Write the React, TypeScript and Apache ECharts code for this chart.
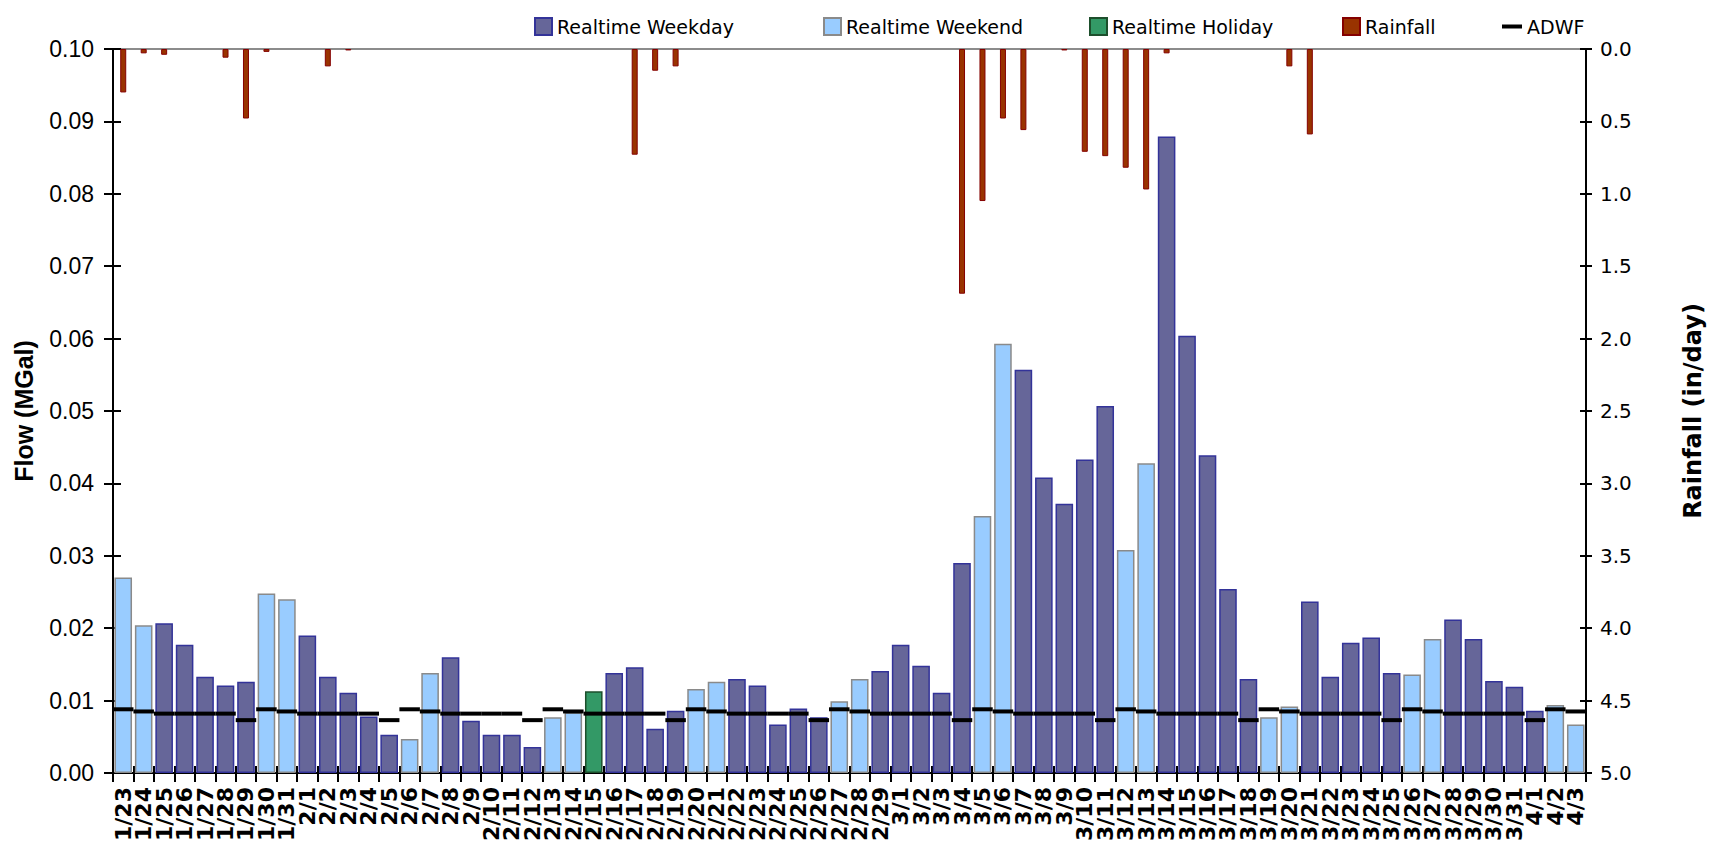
import React, { useEffect, useRef } from "react";
import * as echarts from "echarts";

const categories = [
  "1/23", "1/24", "1/25", "1/26", "1/27", "1/28", "1/29", "1/30", "1/31",
  "2/1", "2/2", "2/3", "2/4", "2/5", "2/6", "2/7", "2/8", "2/9", "2/10",
  "2/11", "2/12", "2/13", "2/14", "2/15", "2/16", "2/17", "2/18", "2/19", "2/20",
  "2/21", "2/22", "2/23", "2/24", "2/25", "2/26", "2/27", "2/28", "2/29",
  "3/1", "3/2", "3/3", "3/4", "3/5", "3/6", "3/7", "3/8", "3/9", "3/10",
  "3/11", "3/12", "3/13", "3/14", "3/15", "3/16", "3/17", "3/18", "3/19", "3/20",
  "3/21", "3/22", "3/23", "3/24", "3/25", "3/26", "3/27", "3/28", "3/29", "3/30",
  "3/31", "4/1", "4/2", "4/3",
];

// Day type: D = weekday, E = weekend, H = holiday
const dayType = [
  "E", "E", "D", "D", "D", "D", "D", "E", "E",
  "D", "D", "D", "D", "D", "E", "E", "D", "D", "D",
  "D", "D", "E", "E", "H", "D", "D", "D", "D", "E",
  "E", "D", "D", "D", "D", "D", "E", "E", "D",
  "D", "D", "D", "D", "E", "E", "D", "D", "D", "D",
  "D", "E", "E", "D", "D", "D", "D", "D", "E", "E",
  "D", "D", "D", "D", "D", "E", "E", "D", "D", "D",
  "D", "D", "E", "E",
];

const flow = [
  0.0270, 0.0204, 0.0207, 0.0177, 0.0133, 0.0121, 0.0126, 0.0248, 0.0240,
  0.0190, 0.0133, 0.0111, 0.0078, 0.0053, 0.0047, 0.0138, 0.0160, 0.0072, 0.0053,
  0.0053, 0.0036, 0.0077, 0.0084, 0.0113, 0.0138, 0.0146, 0.0061, 0.0086, 0.0116,
  0.0126, 0.0130, 0.0121, 0.0067, 0.0089, 0.0077, 0.0099, 0.0130, 0.0141,
  0.0177, 0.0148, 0.0111, 0.0290, 0.0355, 0.0593, 0.0557, 0.0408, 0.0372, 0.0433,
  0.0507, 0.0308, 0.0428, 0.0879, 0.0604, 0.0439, 0.0254, 0.0130, 0.0077, 0.0092,
  0.0237, 0.0133, 0.0180, 0.0187, 0.0138, 0.0136, 0.0185, 0.0212, 0.0185, 0.0127,
  0.0119, 0.0086, 0.0094, 0.0067,
];

const rainfall = [
  0.30, 0.03, 0.04, 0, 0, 0.06, 0.48, 0.02, 0,
  0, 0.12, 0.01, 0, 0, 0, 0, 0, 0, 0,
  0, 0, 0, 0, 0, 0, 0.73, 0.15, 0.12, 0,
  0, 0, 0, 0, 0, 0, 0, 0, 0,
  0, 0, 0, 1.69, 1.05, 0.48, 0.56, 0, 0.01, 0.71,
  0.74, 0.82, 0.97, 0.03, 0, 0, 0, 0, 0, 0.12,
  0.59, 0, 0, 0, 0, 0, 0, 0, 0, 0,
  0, 0, 0, 0,
];

const adwf = [
  0.0088, 0.0085, 0.0082, 0.0082, 0.0082, 0.0082, 0.0073, 0.0088, 0.0085,
  0.0082, 0.0082, 0.0082, 0.0082, 0.0073, 0.0088, 0.0085, 0.0082, 0.0082, 0.0082,
  0.0082, 0.0073, 0.0088, 0.0085, 0.0082, 0.0082, 0.0082, 0.0082, 0.0073, 0.0088,
  0.0085, 0.0082, 0.0082, 0.0082, 0.0082, 0.0073, 0.0088, 0.0085, 0.0082,
  0.0082, 0.0082, 0.0082, 0.0073, 0.0088, 0.0085, 0.0082, 0.0082, 0.0082, 0.0082,
  0.0073, 0.0088, 0.0085, 0.0082, 0.0082, 0.0082, 0.0082, 0.0073, 0.0088, 0.0085,
  0.0082, 0.0082, 0.0082, 0.0082, 0.0073, 0.0088, 0.0085, 0.0082, 0.0082, 0.0082,
  0.0082, 0.0073, 0.0088, 0.0085,
];

const flowTicks = { min: 0, max: 0.1, interval: 0.01 };
const rainTicks = { min: 0, max: 5, interval: 0.5 };

const legendFont = { fontFamily: "DejaVu Sans", fontSize: 19, color: "#000" };
const gridBox = { left: 113, right: 129, top: 49, bottom: 78 };
const black2 = { color: "#000", width: 2 };

export default function App() {
  const ref = useRef<HTMLDivElement>(null);

  useEffect(() => {
    if (!ref.current) return;
    const chart = echarts.init(ref.current, null, { renderer: "svg" });

    const pick = (t: string) =>
      flow.map((v, i) => (dayType[i] === t ? v : null));

    const mkLegend = (name: string, left: number, icon?: string) => ({
      show: true,
      left,
      top: 12,
      orient: "horizontal",
      itemWidth: icon ? 20 : 17,
      itemHeight: 17,
      selectedMode: false,
      textStyle: legendFont,
      data: [icon ? { name, icon } : { name, icon: "rect" }],
    });

    const option: any = {
      animation: false,
      backgroundColor: "#fff",
      grid: [
        {
          ...gridBox,
          show: true,
          borderColor: "#8c8c8c",
          borderWidth: 2,
          backgroundColor: "transparent",
        },
        { ...gridBox, show: false },
      ],
      legend: [
        mkLegend("Realtime Weekday", 529),
        mkLegend("Realtime Weekend", 818),
        mkLegend("Realtime Holiday", 1084),
        mkLegend("Rainfall", 1337),
        mkLegend("ADWF", 1497, "path://M0,0H20V4H0Z"),
      ],
      xAxis: [
        {
          gridIndex: 0,
          type: "category",
          data: categories,
          position: "bottom",
          boundaryGap: true,
          axisLine: { show: true, lineStyle: black2 },
          axisTick: { show: true, inside: false, length: 9, interval: 0, lineStyle: black2 },
          axisLabel: {
            interval: 0,
            rotate: 90,
            margin: 14,
            color: "#000",
            fontFamily: "DejaVu Sans",
            fontWeight: "bold",
            fontSize: 22,
          },
          splitLine: { show: false },
        },
        {
          gridIndex: 1,
          type: "category",
          data: categories,
          position: "bottom",
          boundaryGap: true,
          axisLine: { show: false },
          axisTick: { show: true, inside: true, length: 7, interval: 0, lineStyle: black2 },
          axisLabel: { show: false },
          splitLine: { show: false },
        },
      ],
      yAxis: [
        {
          gridIndex: 0,
          type: "value",
          position: "left",
          ...flowTicks,
          name: "Flow (MGal)",
          nameLocation: "middle",
          nameRotate: 90,
          nameGap: 77,
          nameTextStyle: {
            fontFamily: "Liberation Sans",
            fontWeight: "bold",
            fontSize: 25,
            color: "#000",
          },
          axisLine: { show: true, lineStyle: black2 },
          axisTick: { show: true, inside: false, length: 9, lineStyle: black2 },
          axisLabel: {
            margin: 19,
            color: "#000",
            fontFamily: "Liberation Sans",
            fontSize: 23,
            formatter: (v: number) => v.toFixed(2),
          },
          splitLine: { show: false },
        },
        {
          gridIndex: 0,
          type: "value",
          position: "right",
          inverse: true,
          ...rainTicks,
          name: "Rainfall (in/day)",
          nameLocation: "middle",
          nameRotate: 90,
          nameGap: 95,
          nameTextStyle: {
            fontFamily: "DejaVu Sans",
            fontWeight: "bold",
            fontSize: 24,
            color: "#000",
          },
          axisLine: { show: true, lineStyle: black2 },
          axisTick: { show: true, inside: false, length: 6, lineStyle: black2 },
          axisLabel: {
            margin: 14,
            color: "#000",
            fontFamily: "DejaVu Sans",
            fontSize: 20,
            formatter: (v: number) => v.toFixed(1),
          },
          splitLine: { show: false },
        },
        {
          gridIndex: 1,
          type: "value",
          position: "left",
          ...flowTicks,
          axisLine: { show: false },
          axisTick: { show: true, inside: true, length: 8, lineStyle: black2 },
          axisLabel: { show: false },
          splitLine: { show: false },
        },
        {
          gridIndex: 1,
          type: "value",
          position: "right",
          inverse: true,
          ...rainTicks,
          axisLine: { show: false },
          axisTick: { show: true, inside: true, length: 6, lineStyle: black2 },
          axisLabel: { show: false },
          splitLine: { show: false },
        },
      ],
      series: [
        {
          name: "Realtime Weekday",
          type: "bar",
          xAxisIndex: 0,
          yAxisIndex: 0,
          data: pick("D"),
          barWidth: "86%",
          barGap: "-100%",
          itemStyle: { color: "#666699", borderColor: "#333399", borderWidth: 1.5 },
          z: 2,
        },
        {
          name: "Realtime Weekend",
          type: "bar",
          xAxisIndex: 0,
          yAxisIndex: 0,
          data: pick("E"),
          barWidth: "86%",
          barGap: "-100%",
          itemStyle: { color: "#99ccff", borderColor: "#8a8a8a", borderWidth: 1.5 },
          z: 2,
        },
        {
          name: "Realtime Holiday",
          type: "bar",
          xAxisIndex: 0,
          yAxisIndex: 0,
          data: pick("H"),
          barWidth: "86%",
          barGap: "-100%",
          itemStyle: { color: "#339966", borderColor: "#1d4f2c", borderWidth: 1.5 },
          z: 2,
        },
        {
          name: "Rainfall",
          type: "bar",
          xAxisIndex: 1,
          yAxisIndex: 3,
          data: rainfall.map((v) => (v > 0 ? v : null)),
          barWidth: 6,
          itemStyle: { color: "#993300", borderColor: "#850000", borderWidth: 1 },
          z: 3,
        },
        {
          name: "ADWF",
          type: "scatter",
          xAxisIndex: 0,
          yAxisIndex: 0,
          data: adwf,
          symbol: "rect",
          symbolSize: [20.5, 4],
          itemStyle: { color: "#000", opacity: 1 },
          z: 4,
        },
      ],
    };

    chart.setOption(option);
    const onResize = () => chart.resize();
    window.addEventListener("resize", onResize);
    return () => {
      window.removeEventListener("resize", onResize);
      chart.dispose();
    };
  }, []);

  return <div ref={ref} style={{ width: 1715, height: 851, margin: -8 }} />;
}
